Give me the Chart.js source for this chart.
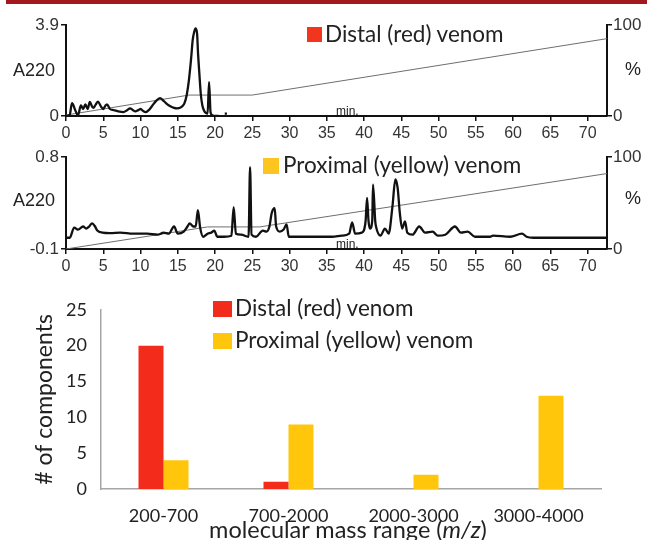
<!DOCTYPE html>
<html>
<head>
<meta charset="utf-8">
<script src="https://cdn.jsdelivr.net/npm/chart.js@4.4.0/dist/chart.umd.min.js"></script>
<style>
body { margin: 0; background: #fff; }
#wrap { position: relative; width: 647px; height: 540px; overflow: hidden; background: #fff; }
#wrap canvas { position: absolute; left: 0; }
.txt { position: absolute; white-space: nowrap; color: #222; line-height: 1; }
.sans { font-family: 'Liberation Sans', Arial, sans-serif; }
.cal { font-family: 'Lato', sans-serif; }
.sq { position: absolute; }
</style>
</head>
<body>
<div id="wrap">
    <div style="position:absolute;left:6px;top:0;width:641px;height:4px;background:#a3171f"></div>

    <canvas id="chartDistal" width="647" height="145" style="top:0"></canvas>
    <canvas id="chartProximal" width="647" height="145" style="top:140px"></canvas>
    <canvas id="chartMassa" width="647" height="255" style="top:285px"></canvas>

    <!-- textos soltos dos cromatogramas -->
    <div class="txt sans" style="left:13px;top:61px;font-size:18px">A220</div>
    <div class="txt sans" style="left:625px;top:60px;font-size:18px">%</div>
    <div class="txt sans" style="left:336px;top:105px;font-size:12px">min.</div>
    <div class="sq" style="left:307px;top:27px;width:15px;height:15px;background:#f2361e"></div>
    <div class="txt cal" style="left:325px;top:23px;font-size:22.5px">Distal (red) venom</div>

    <div class="txt sans" style="left:13px;top:191px;font-size:18px">A220</div>
    <div class="txt sans" style="left:625px;top:189px;font-size:18px">%</div>
    <div class="txt sans" style="left:336px;top:238px;font-size:12px">min.</div>
    <div class="sq" style="left:263px;top:158px;width:16px;height:16px;background:#fdc520"></div>
    <div class="txt cal" style="left:283px;top:154px;font-size:22.5px">Proximal (yellow) venom</div>

    <!-- legenda do grafico de barras -->
    <div class="sq" style="left:213px;top:301px;width:19px;height:16px;background:#f22b1b"></div>
    <div class="txt cal" style="left:235px;top:297px;font-size:22.5px">Distal (red) venom</div>
    <div class="sq" style="left:213px;top:333px;width:19px;height:16px;background:#ffc60b"></div>
    <div class="txt cal" style="left:235px;top:329px;font-size:22.5px">Proximal (yellow) venom</div>
    <div class="txt cal" style="left:348px;top:518px;font-size:23.5px;transform:translateX(-50%)">molecular mass range (<i>m/z</i>)</div>
</div>

<script>
// ---- dados ----
const minutos = [0, 5, 10, 15, 20, 25, 30, 35, 40, 45, 50, 55, 60, 65, 70];
const tempoMax = 72.6;

// cromatograma distal (vermelho)
const distalTempo = [0, 0.5, 0.8, 1.3, 1.6, 2.0, 2.3, 2.6, 2.9, 3.2, 3.5, 3.7, 4.0, 4.3, 4.7, 5.0, 5.3, 5.5, 5.9,
    6.4, 7.0, 7.7, 8.2, 8.6, 9.0, 9.3, 9.7, 10.0, 10.4, 10.7, 11.2, 11.6, 12.1, 12.6, 13.1, 13.6, 14.0, 14.5,
    14.9, 15.3, 15.7, 15.9, 16.2, 16.5, 16.8, 17.0, 17.2, 17.4, 17.6, 17.7, 17.9, 18.1, 18.3, 18.5, 18.8,
    19.0, 19.2, 19.4, 19.7, 20.0, 20.5, 21.0, 21.3, 21.6];
const distalA220 = [0, 0.05, 0.55, 0.2, 0.02, 0.45, 0.3, 0.5, 0.3, 0.6, 0.4, 0.35, 0.5, 0.62, 0.4, 0.3, 0.45, 0.5, 0.3,
    0.25, 0.2, 0.17, 0.25, 0.33, 0.25, 0.2, 0.25, 0.3, 0.2, 0.17, 0.28, 0.45, 0.65, 0.77, 0.65, 0.5, 0.42, 0.35,
    0.33, 0.35, 0.45, 0.55, 0.9, 1.55, 2.5, 3.25, 3.6, 3.75, 3.5, 2.8, 1.8, 0.9, 0.45, 0.25, 0.12,
    0.1, 1.45, 0.15, 0.02, 0, 0, null, 0.1, 0.1];
const distalGradTempo = [0, 16.5, 25, 72.6];
const distalGradPct = [1, 23, 23, 85];

// cromatograma proximal (amarelo)
const proxTempo = [0, 0.5, 1.1, 1.6, 2.3, 2.7, 3.1, 3.5, 3.9, 4.2, 4.9, 5.9, 7.3, 9.0, 10.9, 12.3, 13.1, 13.8, 14.5,
    15.0, 15.8, 16.3, 16.6, 17.1, 17.4, 17.7, 18.0, 18.4, 19.0, 19.5, 19.9, 20.3, 21.2, 22.2, 22.5, 22.8, 23.5,
    24.5, 24.7, 24.9, 25.5, 26.4, 26.9, 27.3, 27.6, 28.0, 28.2, 28.7, 29.2, 29.6, 29.9, 31.6, 35.7, 37.0, 38.0,
    38.4, 38.8, 39.7, 40.2, 40.4, 40.6, 40.8, 41.1, 41.2, 41.5, 41.6, 42.2, 42.8, 43.3, 43.8, 44.2, 44.5, 44.8,
    45.1, 45.5, 45.8, 46.5, 47.4, 48.2, 49.2, 49.9, 50.9, 52.2, 53.0, 53.9, 54.9, 56.9, 57.3, 59.6, 61.2, 61.8,
    62.7, 72.6];
const proxA220 = [0.01, 0.01, 0.11, 0.09, 0.12, 0.1, 0.12, 0.15, 0.12, 0.08, 0.06, 0.055, 0.06, 0.05, 0.05, 0.04, 0.06, 0.05, 0.12,
    0.05, 0.07, 0.12, 0.15, 0.12, 0.12, 0.28, 0.11, 0.02, 0.05, 0.06, 0.08, 0.02, 0.02, 0.03, 0.31, 0.05, 0.04,
    0.02, 0.7, 0.04, 0.02, 0.08, 0.07, 0.12, 0.25, 0.3, 0.12, 0.07, 0.09, 0.14, 0.02, 0.02, 0.02, 0.03, 0.05,
    0.16, 0.05, 0.06, 0.17, 0.4, 0.17, 0.1, 0.18, 0.53, 0.17, 0.12, 0.03, 0.1, 0.05, 0.31, 0.58, 0.5, 0.25,
    0.1, 0.17, 0.06, 0.04, 0.12, 0.06, 0.07, 0.03, 0.04, 0.12, 0.06, 0.07, 0.02, 0.02, 0.03, 0.02, 0.05, 0.02,
    0.01, 0.01];
const proxGradTempo = [0, 19, 26, 72.6];
const proxGradPct = [0, 24, 24, 82];

// barras
const faixasMassa = ['200-700', '700-2000', '2000-3000', '3000-4000'];
const componentesDistal = [20, 1, 0, 0];
const componentesProximal = [4, 9, 2, 13];

const VERMELHO = '#f22b1b';
const AMARELO = '#ffc60b';

function pontos(xs, ys) {
    return xs.map((x, i) => ({ x: x, y: ys[i] }));
}

const fonteEixo = { family: 'Liberation Sans', size: 16 };

function cromatograma(id, tempo, a220, gradTempo, gradPct, yMin, yMax, topo, alturaX) {
    return new Chart(document.getElementById(id), {
        type: 'line',
        data: {
            datasets: [
                {
                    data: pontos(tempo, a220),
                    borderColor: '#111',
                    borderWidth: 2.3,
                    cubicInterpolationMode: 'monotone',
                    spanGaps: false,
                    yAxisID: 'y',
                    order: 0 },
                {
                    data: pontos(gradTempo, gradPct),
                    borderColor: '#6e6e6e',
                    borderWidth: 1,
                    yAxisID: 'y2',
                    order: 1 }
            ]
        },
        options: {
            responsive: false,
            animation: false,
            layout: { padding: { top: topo, left: 0, right: 0, bottom: 0 } },
            elements: { point: { radius: 0 } },
            plugins: { legend: { display: false }, tooltip: { enabled: false } },
            scales: {
                x: {
                    type: 'linear',
                    min: 0,
                    max: tempoMax,
                    afterBuildTicks: s => { s.ticks = minutos.map(v => ({ value: v })); },
                    afterFit: s => { s.height = alturaX; },
                    grid: { display: true, drawOnChartArea: false, drawTicks: true, tickLength: 5, color: '#111', lineWidth: 1.5 },
                    border: { display: true, color: '#111', width: 2 },
                    ticks: { color: '#333', font: fonteEixo, padding: 3, maxRotation: 0, autoSkip: false }
                },
                y: {
                    position: 'left',
                    min: yMin,
                    max: yMax,
                    afterBuildTicks: s => { s.ticks = [{ value: yMin }, { value: yMax }]; },
                    afterFit: s => { s.width = 66; },
                    grid: { display: true, drawOnChartArea: false, drawTicks: true, tickLength: 5, color: '#111', lineWidth: 1.5 },
                    border: { display: true, color: '#111', width: 2 },
                    ticks: { color: '#333', font: { family: 'Liberation Sans', size: 17 }, padding: 2,
                        callback: v => String(v) }
                },
                y2: {
                    position: 'right',
                    min: 0,
                    max: 100,
                    afterBuildTicks: s => { s.ticks = [{ value: 0 }, { value: 100 }]; },
                    afterFit: s => { s.width = 40; },
                    grid: { display: true, drawOnChartArea: false, drawTicks: true, tickLength: 5, color: '#111', lineWidth: 1.5 },
                    border: { display: true, color: '#111', width: 2 },
                    ticks: { color: '#333', font: { family: 'Liberation Sans', size: 17 }, padding: 1 }
                }
            }
        }
    });
}

cromatograma('chartDistal', distalTempo, distalA220, distalGradTempo, distalGradPct, 0, 3.9, 25, 29);
cromatograma('chartProximal', proxTempo, proxA220, proxGradTempo, proxGradPct, -0.1, 0.8, 17, 36);

const fonteBarra = { family: 'Lato', size: 18 };

new Chart(document.getElementById('chartMassa'), {
    type: 'bar',
    data: {
        labels: faixasMassa,
        datasets: [
            { label: 'Distal (red) venom', data: componentesDistal, backgroundColor: VERMELHO },
            { label: 'Proximal (yellow) venom', data: componentesProximal, backgroundColor: AMARELO }
        ]
    },
    options: {
        responsive: false,
        animation: false,
        layout: { padding: { top: 13, right: 46, left: 0, bottom: 0 } },
        datasets: { bar: { categoryPercentage: 0.4, barPercentage: 1 } },
        plugins: { legend: { display: false }, tooltip: { enabled: false } },
        scales: {
            x: {
                grid: { display: false, drawTicks: false },
                border: { display: true, color: '#a6a6a6', width: 1.5 },
                ticks: { color: '#222', font: fonteBarra, padding: 16, maxRotation: 0 },
                afterFit: s => { s.height = 51; }
            },
            y: {
                min: 0,
                max: 25,
                grid: { display: false, drawTicks: false },
                border: { display: true, color: '#a6a6a6', width: 1.5 },
                ticks: { stepSize: 5, color: '#222', font: fonteBarra, padding: 14 },
                title: {
                    display: true,
                    text: '# of components',
                    color: '#222',
                    font: { family: 'Lato', size: 23 },
                    padding: { top: 31, bottom: 0 }
                },
                afterFit: s => { s.width = 101; }
            }
        }
    }
});
</script>
</body>
</html>
